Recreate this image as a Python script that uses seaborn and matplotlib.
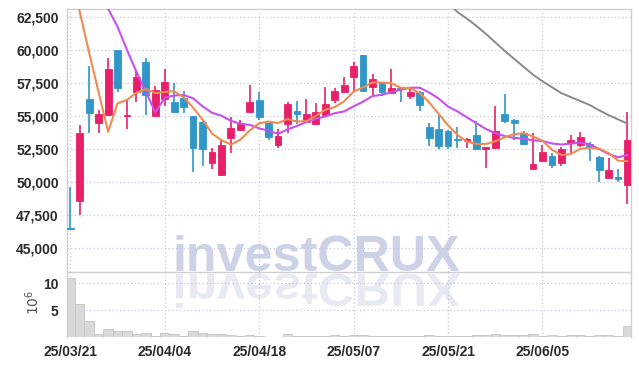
import matplotlib
matplotlib.use("Agg")
import matplotlib.pyplot as plt
import seaborn as sns
import numpy as np
import pandas as pd
from matplotlib.patches import Rectangle, PathPatch
from matplotlib.textpath import TextPath
from matplotlib.font_manager import FontProperties
from matplotlib.transforms import Affine2D

# tanggal label sumbu x (setiap 10 hari bursa)
tick_pos = [0, 10, 20, 30, 40, 50]
tick_labels = ['25/03/21', '25/04/04', '25/04/18', '25/05/07', '25/05/21', '25/06/05']

# data harga harian (60 hari bursa)
opens = [46500, 48590, 56330, 54500, 55090, 60020, 55000, 56860, 59110, 55010,
         56330, 56080, 56380, 55010, 54560, 51470, 50540, 53370, 53950, 55340,
         56230, 54460, 52840, 54380, 55390, 54540, 54380, 55090, 56230, 56860,
         57950, 59640, 57240, 57540, 56780, 57110, 56550, 56860, 54160, 54000,
         53880, 53250, 53140, 53570, 52480, 52610, 55170, 54710, 53750, 51020,
         51620, 51980, 51470, 52940, 52810, 52890, 51930, 50330, 50360, 49780]
highs = [49650, 54310, 58810, 55470, 59390, 60050, 56230, 58500, 59390, 57290,
         58560, 57490, 56930, 55050, 54600, 52560, 53250, 54920, 54710, 57370,
         56860, 54500, 54000, 56080, 56170, 56280, 55980, 57240, 57110, 57990,
         59130, 59660, 58200, 57600, 58560, 57150, 57110, 56900, 54460, 55090,
         53950, 54160, 53370, 54660, 52700, 55770, 56680, 54750, 53900, 53700,
         52810, 52180, 52690, 53570, 53820, 53060, 52000, 51800, 50970, 55340]
lows = [46400, 47530, 53700, 53700, 55000, 56860, 54000, 56100, 55090, 55000,
        55770, 55300, 55260, 50740, 51200, 50970, 50460, 52230, 53900, 55270,
        54710, 53190, 52560, 53700, 54380, 54460, 54330, 55010, 55980, 56740,
        56900, 56900, 56610, 56530, 56660, 56050, 56280, 55390, 52760, 52490,
        52490, 52610, 52560, 52480, 51050, 52490, 54460, 53190, 52810, 50980,
        51600, 51050, 51220, 52230, 52690, 51620, 50030, 50300, 50030, 48340]
closes = [46420, 53700, 55260, 55170, 58560, 57160, 55050, 57950, 56600, 56990,
          57590, 55340, 55720, 52610, 52510, 52260, 52790, 54080, 54410, 56080,
          54960, 53440, 53500, 55920, 55140, 55170, 55320, 55900, 56910, 57370,
          58810, 56930, 57800, 56860, 57110, 57060, 56860, 55850, 53370, 52740,
          52740, 53200, 53290, 52510, 52640, 53880, 54660, 54500, 52870, 51370,
          52280, 51300, 52490, 53190, 53400, 52640, 50920, 50920, 50260, 53190]

# garis rata-rata bergerak
ma5 = [66500, 62900, 59800, 56800, 53820, 55970, 56240, 56780, 57060, 56750,
       56840, 56890, 56450, 55650, 54750, 53690, 53180, 52850, 53210, 53920,
       54460, 54590, 54480, 54780, 54590, 54630, 55010, 55490, 55690, 56130,
       56860, 57180, 57560, 57550, 57500, 57150, 57140, 56750, 56050, 55180,
       54310, 53580, 53070, 52900, 52880, 53100, 53400, 53640, 53710, 53460,
       53140, 52460, 52060, 52130, 52530, 52600, 52530, 52210, 51630, 51590]
ma10 = [69900, 68000, 66300, 64600, 63150, 61790, 60020, 58370, 56860, 55290,
        56400, 56570, 56610, 56360, 55750, 55260, 55040, 54650, 54430, 54340,
        54080, 53890, 53660, 54000, 54260, 54550, 54800, 54980, 55230, 55360,
        55750, 56100, 56530, 56620, 56820, 57010, 57160, 57160, 56800, 56340,
        55730, 55360, 54910, 54470, 54030, 53710, 53490, 53350, 53300, 53170,
        53120, 52930, 52850, 52920, 52990, 52870, 52500, 52140, 51880, 52060]
ma60 = [np.nan] * 40 + [63600, 62900, 62400, 61850, 61250, 60600, 59950, 59350, 58750, 58150,
                        57650, 57200, 56750, 56450, 56150, 55850, 55450, 55080, 54760, 54430]

# volume (juta lembar)
volume = [10.9, 6.07, 2.88, 0.64, 1.57, 1.07, 1.05, 0.5, 0.82, 0.26,
          0.69, 0.64, 0.26, 1.07, 0.82, 0.5, 0.64, 0.39, 0.26, 0.45,
          0.26, 0.07, 0.07, 0.5, 0.1, 0.15, 0.2, 0.25, 0.3, 0.25,
          0.45, 0.35, 0.2, 0.15, 0.1, 0.15, 0.1, 0.2, 0.3, 0.25,
          0.2, 0.15, 0.1, 0.3, 0.3, 0.5, 0.35, 0.45, 0.3, 0.5,
          0.2, 0.3, 0.25, 0.3, 0.45, 0.25, 0.4, 0.45, 0.2, 2.0]

df = pd.DataFrame({'open': opens, 'high': highs, 'low': lows, 'close': closes,
                   'ma5': ma5, 'ma10': ma10, 'ma60': ma60, 'volume': volume})
df['idx'] = np.arange(len(df))

sns.set_style("white")
plt.rcParams['font.family'] = ['Liberation Sans', 'DejaVu Sans']

RED = '#e8206a'
BLUE = '#3096c8'
GRID = '#c3c8dc'
SPINE = '#cfcfcf'

fig = plt.figure(figsize=(6.39, 3.66), dpi=100)
ax = fig.add_axes([0.1049, 0.2560, 0.8822, 0.7194])
axv = fig.add_axes([0.1049, 0.0792, 0.8822, 0.1768], sharex=ax)
ax.patch.set_alpha(0)
axv.patch.set_alpha(0)

# watermark investCRUX (teks asli) + bayangan terbalik
fp = FontProperties(family='Liberation Sans', weight='bold')
tp = TextPath((0, 0), 'investCRUX', size=1, prop=fp)
ext = tp.get_extents()
s = 284 / ext.width
fig.text((176 - ext.x0 * s) / 639, (366 - 271) / 366, 'investCRUX', fontproperties=fp,
         fontsize=s * 0.72, color='#cdd2e7', ha='left', va='baseline', zorder=-2)
wm2 = Affine2D().translate(-ext.x0, 0).scale(s, -s * 0.92).translate(176, 366 - 274)
fig.patches.append(PathPatch(tp, transform=wm2, facecolor='#e8eaf3', edgecolor='none', zorder=-2))

# candlestick
for _, r in df.iterrows():
    c = RED if r['close'] >= r['open'] else BLUE
    ax.vlines(r['idx'], r['low'], r['high'], color=c, lw=1.2, zorder=3)
    bottom = min(r['open'], r['close'])
    h = max(abs(r['close'] - r['open']), 60)
    ax.add_patch(Rectangle((r['idx'] - 0.36, bottom), 0.72, h, facecolor=c,
                           edgecolor=c, lw=0.6, zorder=4))

# moving average
sns.lineplot(data=df, x='idx', y='ma60', ax=ax, color='#8a8a8a', lw=1.4, zorder=5)
sns.lineplot(data=df, x='idx', y='ma10', ax=ax, color='#c84ff0', lw=1.5, zorder=5)
sns.lineplot(data=df, x='idx', y='ma5', ax=ax, color='#f08a50', lw=1.5, zorder=5)

# volume
axv.bar(df['idx'], df['volume'], width=1.0, color='#d9d9d9', edgecolor='#c4c4c4', lw=0.6)

ax.set_xlim(-0.35, 59.35)
ax.set_ylim(43160, 63130)
axv.set_ylim(0, 12)

yt = list(range(45000, 62501, 2500))
ax.set_yticks(yt)
ax.set_yticklabels([f'{v:,}' for v in yt])
axv.set_yticks([5, 10])
axv.set_yticklabels(['5', '10'])
axv.set_xticks(tick_pos)
axv.set_xticklabels(tick_labels)

for a in (ax, axv):
    a.grid(True, linestyle=(0, (1, 2)), color=GRID, lw=0.9)
    a.set_axisbelow(True)
    a.set_xlabel('')
    a.set_ylabel('')
    a.tick_params(length=0, pad=6, labelsize=10, colors='#2a2a2a')
    for lbl in a.get_xticklabels() + a.get_yticklabels():
        lbl.set_fontweight('bold')
    for sp in a.spines.values():
        sp.set_color(SPINE)
        sp.set_linewidth(1)
ax.tick_params(labelbottom=False)
axv.spines['top'].set_visible(False)
axv.spines['bottom'].set_visible(False)

fig.text(33 / 639, 1 - 302 / 366, r'$10^6$', rotation=90, ha='center', va='center',
         fontsize=10, color='#555555')

fig.savefig('out.png', dpi=100)
